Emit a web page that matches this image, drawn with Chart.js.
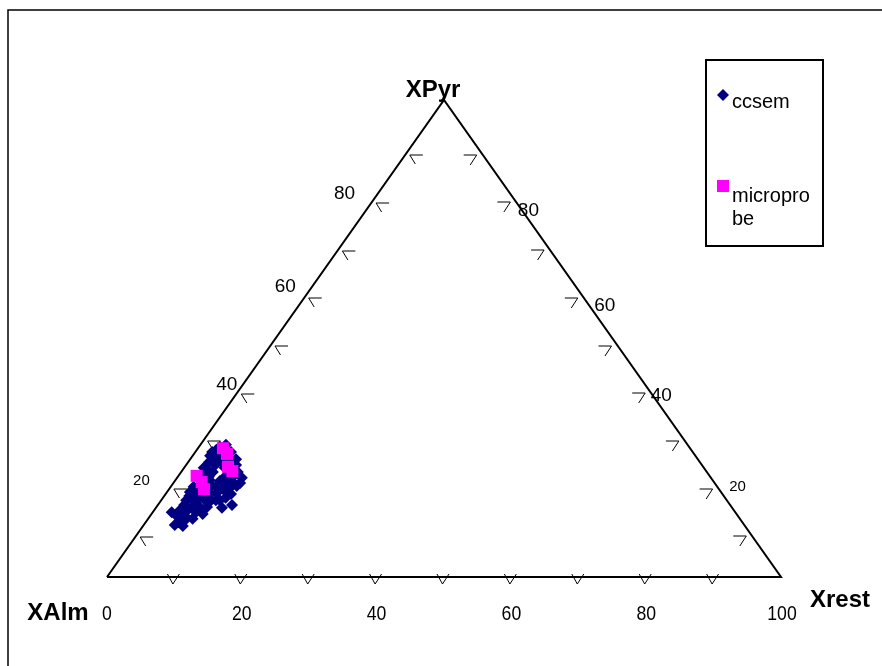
<!DOCTYPE html>
<html>
<head>
<meta charset="utf-8">
<script src="https://cdn.jsdelivr.net/npm/chart.js@4.4.1/dist/chart.umd.min.js"></script>
<style>
  html, body { margin: 0; padding: 0; background: #fff; }
  #wrap { width: 882px; height: 666px; position: relative; }
</style>
</head>
<body>
<div id="wrap"><canvas id="c" width="882" height="666"></canvas></div>
<script>
// Garnet end-member proportions (%), Xrest = 100 - XPyr - XAlm
const ccsemPyr = [13.6, 10.9, 10.7, 12.6, 13.2, 14.3, 12.2, 13.2, 14.9, 16.1,
                  15.1, 14.0, 14.7, 17.4, 18.4, 19.5, 21.0, 22.0, 23.5, 24.1,
                  22.9, 21.2, 18.9, 17.0, 17.4, 18.9, 20.1, 18.2, 14.5, 16.1,
                  16.6, 15.1, 18.7, 16.1, 26.2, 24.9, 27.3, 27.7, 26.2, 24.7,
                  23.3, 22.0, 20.8, 21.2, 24.1, 20.1, 19.1, 22.9, 25.4, 25.8,
                  12.4, 13.6, 14.7, 16.1, 16.6, 17.8, 19.1, 17.6, 19.3, 19.9,
                  21.6, 21.0, 22.4, 24.5, 24.7, 26.6, 23.5, 19.7, 16.1, 11.9,
                  11.5, 15.1, 20.3, 21.4, 17.4, 16.1, 17.8];
const ccsemAlm = [83.6, 84.5, 83.4, 83.2, 82.0, 80.7, 81.2, 79.2, 79.2, 79.3,
                  81.0, 82.2, 78.9, 78.1, 76.8, 75.6, 74.4, 73.3, 72.2, 72.8,
                  74.2, 75.8, 77.7, 79.3, 76.0, 74.4, 73.2, 73.5, 75.7, 75.8,
                  74.1, 73.9, 72.4, 77.4, 71.3, 71.2, 69.6, 68.5, 68.5, 68.5,
                  69.5, 69.6, 69.6, 71.8, 71.0, 71.5, 71.2, 71.1, 72.0, 70.5,
                  82.0, 80.0, 77.8, 76.5, 77.9, 76.4, 74.9, 74.9, 73.5, 72.4,
                  71.1, 70.8, 73.8, 72.0, 69.7, 70.5, 69.1, 70.4, 75.2, 82.5,
                  83.6, 79.5, 74.6, 74.9, 72.9, 80.2, 78.8];
const microPyr = [27.0, 25.8, 23.1, 22.2, 21.2, 19.9, 18.4];
const microAlm = [69.3, 69.3, 70.5, 70.3, 76.1, 76.0, 76.4];

// axis ticks and labels
const tickValues   = [10, 20, 30, 40, 50, 60, 70, 80, 90];
const bottomLabels = [0, 20, 40, 60, 80, 100];
const sideLabels   = [20, 40, 60, 80];
const apexNames    = { alm: 'XAlm', pyr: 'XPyr', rest: 'Xrest' };
const seriesNames  = { ccsem: 'ccsem', micro: ['micropro', 'be'] };

// ternary (Pyr, Alm) -> plot plane (x along the base, y = Pyr)
function toXY(pyr, alm) {
  return { x: 100 - alm - pyr / 2, y: pyr };
}

const ccsemPts = ccsemPyr.map((p, i) => toXY(p, ccsemAlm[i]));
const microPts = microPyr.map((p, i) => toXY(p, microAlm[i]));
const trianglePts = [toXY(0, 100), toXY(0, 0), toXY(100, 0), toXY(0, 100)];

const NAVY = '#000080';
const MAGENTA = '#ff00ff';
const FONT = '"Liberation Sans", Arial, Helvetica, sans-serif';

function px(chart, pt) {
  return { x: chart.scales.x.getPixelForValue(pt.x), y: chart.scales.y.getPixelForValue(pt.y) };
}

function marker(ctx, style, r, x, y) {
  if (Chart.helpers && Chart.helpers.drawPoint) {
    Chart.helpers.drawPoint(ctx, { pointStyle: style, radius: r, rotation: 0, borderWidth: 0 }, x, y);
  } else {
    ctx.beginPath();
    if (style === 'rectRot') {
      ctx.moveTo(x - r, y); ctx.lineTo(x, y - r); ctx.lineTo(x + r, y); ctx.lineTo(x, y + r);
    } else {
      const s = r * Math.SQRT1_2;
      ctx.rect(x - s, y - s, 2 * s, 2 * s);
    }
    ctx.closePath(); ctx.fill();
  }
}

const ternaryDecor = {
  id: 'ternaryDecor',
  beforeDraw(chart) {
    const c = chart.ctx;
    c.save();
    c.fillStyle = '#fff';
    c.fillRect(0, 0, chart.width, chart.height);
    // outer chart frame
    c.strokeStyle = '#000';
    c.lineWidth = 1.5;
    c.strokeRect(8, 10, chart.width + 20, chart.height + 20);
    c.restore();
  },
  beforeDatasetsDraw(chart) {
    const c = chart.ctx;
    c.save();
    c.strokeStyle = '#000';
    c.lineWidth = 1;
    tickValues.forEach(v => {
      // base: V-shaped ticks
      const b = px(chart, toXY(0, 100 - v));
      const ax = b.x - 1.5, ay = b.y + 7;
      c.beginPath();
      c.moveTo(ax - 5.5, b.y - 3); c.lineTo(ax, ay); c.lineTo(ax + 6.5, b.y - 3);
      c.stroke();
      // left side
      const l = px(chart, toXY(v, 100 - v));
      const lx = l.x - 0.5, ly = Math.round(l.y + 7.5);
      c.beginPath();
      c.moveTo(lx + 13, ly); c.lineTo(lx, ly); c.lineTo(lx + 5.5, ly + 9);
      c.stroke();
      // right side
      const r = px(chart, toXY(v, 0));
      const rx = r.x - 1, ry = Math.round(r.y + 7);
      c.beginPath();
      c.moveTo(rx - 13, ry); c.lineTo(rx, ry); c.lineTo(rx - 6.5, ry + 10);
      c.stroke();
    });
    c.restore();
  },
  afterDatasetsDraw(chart) {
    const c = chart.ctx;
    c.save();
    c.fillStyle = '#000';
    c.textAlign = 'center';
    c.textBaseline = 'middle';

    // base scale labels (condensed)
    bottomLabels.forEach(v => {
      const p = px(chart, toXY(0, 100 - v));
      c.save();
      c.translate(p.x + (v === 100 ? 1 : 0), p.y + 37);
      c.scale(0.84, 1);
      c.font = '21px ' + FONT;
      c.fillText(String(v), 0, 0);
      c.restore();
    });

    // side labels
    const leftOff = { 20: [-33, -1], 40: [-15, -1], 60: [-24, -4], 80: [-32, -2] };
    const rightOff = { 20: [24, 5], 40: [15, 10], 60: [26, 15], 80: [17, 15] };
    sideLabels.forEach(v => {
      c.font = (v === 20 ? '15px ' : '19px ') + FONT;
      const l = px(chart, toXY(v, 100 - v));
      c.fillText(String(v), l.x + leftOff[v][0], l.y + leftOff[v][1]);
      const r = px(chart, toXY(v, 0));
      c.fillText(String(v), r.x + rightOff[v][0], r.y + rightOff[v][1]);
    });

    // corner names
    c.font = 'bold 24px ' + FONT;
    c.textBaseline = 'alphabetic';
    const top = px(chart, toXY(100, 0));
    c.fillText(apexNames.pyr, top.x - 11, top.y - 3);
    const bl = px(chart, toXY(0, 100));
    c.fillText(apexNames.alm, bl.x - 49, bl.y + 43);
    const br = px(chart, toXY(0, 0));
    c.fillText(apexNames.rest, br.x + 59, br.y + 30);

    // legend box
    c.strokeStyle = '#000';
    c.lineWidth = 2;
    c.strokeRect(706, 60, 117, 186);
    c.fillStyle = NAVY;
    marker(c, 'rectRot', 6, 723, 95);
    c.fillStyle = MAGENTA;
    marker(c, 'rect', 8.5, 723, 186);
    c.fillStyle = '#000';
    c.textAlign = 'left';
    c.font = '20px ' + FONT;
    c.fillText(seriesNames.ccsem, 732, 108);
    c.fillText(seriesNames.micro[0], 732, 202);
    c.fillText(seriesNames.micro[1], 732, 225);
    c.restore();
  }
};

new Chart(document.getElementById('c').getContext('2d'), {
  type: 'scatter',
  data: {
    datasets: [
      {
        label: 'micropro be',
        data: microPts,
        pointStyle: 'rect',
        pointRadius: 8.5,
        pointBackgroundColor: MAGENTA,
        pointBorderWidth: 0,
        order: 0
      },
      {
        label: 'ccsem',
        data: ccsemPts,
        pointStyle: 'rectRot',
        pointRadius: 6,
        pointBackgroundColor: NAVY,
        pointBorderWidth: 0,
        order: 1
      },
      {
        label: 'outline',
        data: trianglePts,
        showLine: true,
        borderColor: '#000',
        borderWidth: 2,
        pointRadius: 0,
        fill: false,
        clip: false,
        order: 2
      }
    ]
  },
  options: {
    responsive: false,
    animation: false,
    devicePixelRatio: 1,
    events: [],
    layout: { padding: { left: 107, right: 101, top: 100, bottom: 89 } },
    scales: {
      x: { type: 'linear', min: 0, max: 100, display: false },
      y: { type: 'linear', min: 0, max: 100, display: false }
    },
    plugins: { legend: { display: false }, tooltip: { enabled: false } }
  },
  plugins: [ternaryDecor]
});
</script>
</body>
</html>
